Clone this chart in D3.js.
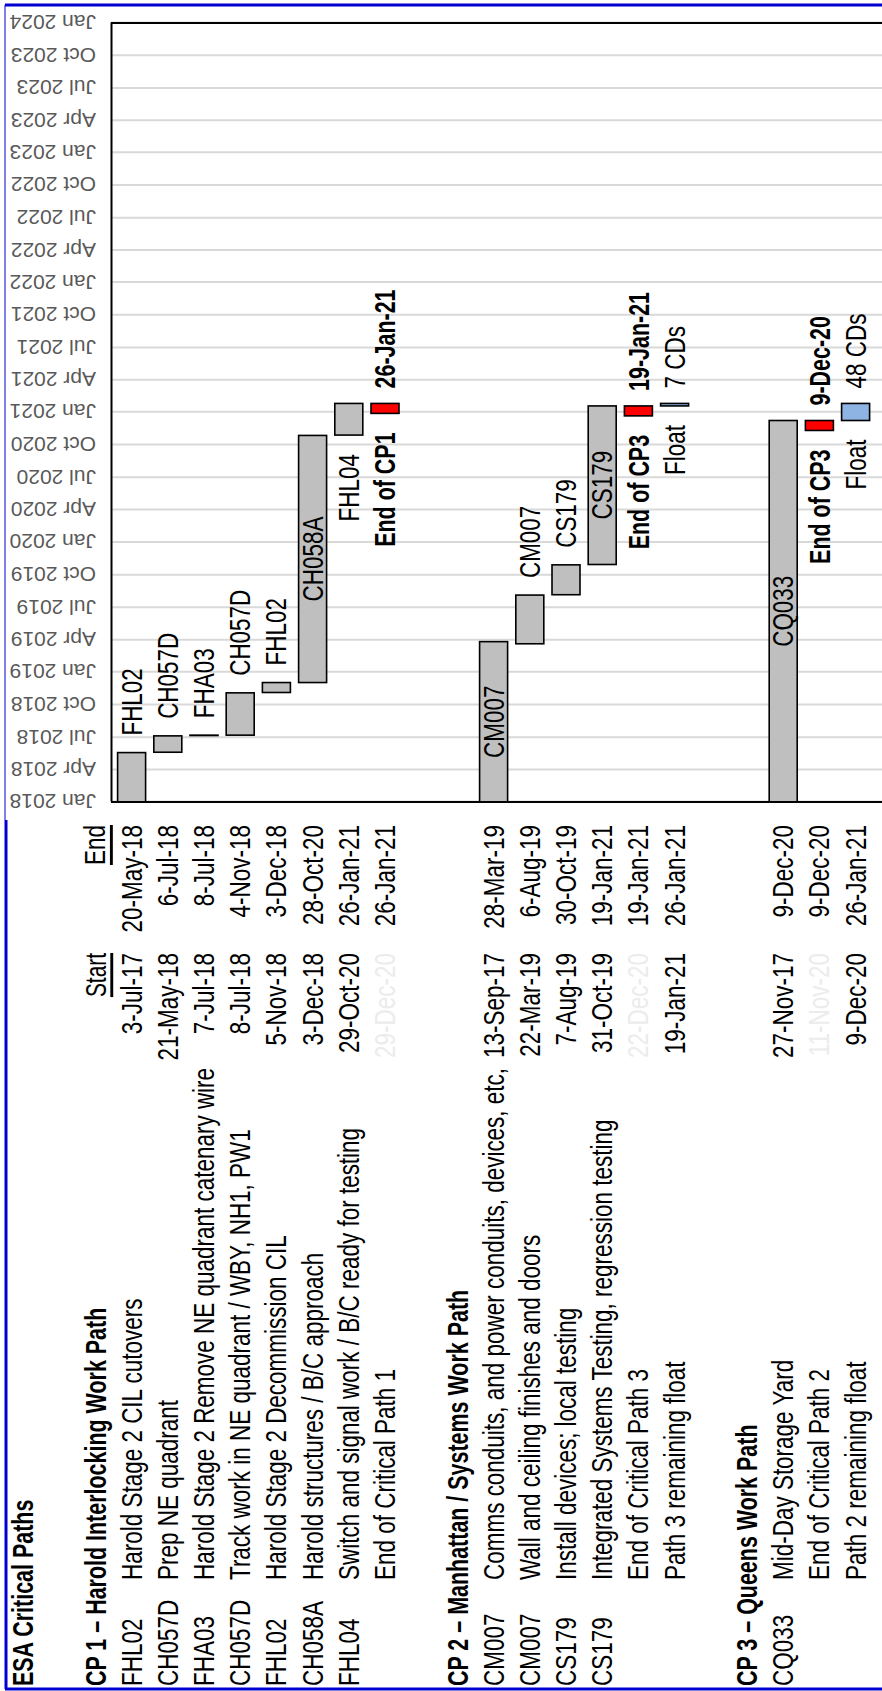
<!DOCTYPE html>
<html>
<head>
<meta charset="utf-8">
<script src="https://cdn.jsdelivr.net/npm/d3@7"></script>
<style>
  html, body { margin: 0; padding: 0; background: #fff; }
  svg { display: block; }
</style>
</head>
<body>
<svg id="chart" width="882" height="1691"></svg>
<script>
// ---- Schedule data -------------------------------------------------------
const title = "ESA Critical Paths";
const sections = [
  "CP 1 \u2013 Harold Interlocking Work Path",
  "CP 2 \u2013 Manhattan / Systems Work Path",
  "CP 3 \u2013 Queens Work Path"
];
const taskSection = [0, 0, 0, 0, 0, 0, 0, 0, 1, 1, 1, 1, 1, 1, 2, 2, 2];
const taskCode = ["FHL02", "CH057D", "FHA03", "CH057D", "FHL02", "CH058A", "FHL04", "",
                  "CM007", "CM007", "CS179", "CS179", "", "",
                  "CQ033", "", ""];
const taskName = [
  "Harold Stage 2 CIL cutovers",
  "Prep NE quadrant",
  "Harold Stage 2 Remove NE quadrant catenary wire",
  "Track work in NE quadrant / WBY, NH1, PW1",
  "Harold Stage 2 Decommission CIL",
  "Harold structures / B/C approach",
  "Switch and signal work / B/C ready for testing",
  "End of Critical Path 1",
  "Comms conduits, and power conduits, devices, etc,",
  "Wall and ceiling finishes and doors",
  "Install devices; local testing",
  "Integrated Systems Testing, regression testing",
  "End of Critical Path 3",
  "Path 3 remaining float",
  "Mid-Day Storage Yard",
  "End of Critical Path 2",
  "Path 2 remaining float"
];
const taskStart = ["3-Jul-17", "21-May-18", "7-Jul-18", "8-Jul-18", "5-Nov-18", "3-Dec-18", "29-Oct-20", "29-Dec-20",
                   "13-Sep-17", "22-Mar-19", "7-Aug-19", "31-Oct-19", "22-Dec-20", "19-Jan-21",
                   "27-Nov-17", "11-Nov-20", "9-Dec-20"];
const taskEnd = ["20-May-18", "6-Jul-18", "8-Jul-18", "4-Nov-18", "3-Dec-18", "28-Oct-20", "26-Jan-21", "26-Jan-21",
                 "28-Mar-19", "6-Aug-19", "30-Oct-19", "19-Jan-21", "19-Jan-21", "26-Jan-21",
                 "9-Dec-20", "9-Dec-20", "26-Jan-21"];
const taskKind = ["work", "work", "work", "work", "work", "work", "work", "end",
                  "work", "work", "work", "work", "end", "float",
                  "work", "end", "float"];
const barLabel = ["FHL02", "CH057D", "FHA03", "CH057D", "FHL02", "CH058A", "FHL04", "End of CP1",
                  "CM007", "CM007", "CS179", "CS179", "End of CP3", "Float",
                  "CQ033", "End of CP3", "Float"];
const tickLabels = ["Jan 2018", "Apr 2018", "Jul 2018", "Oct 2018",
                    "Jan 2019", "Apr 2019", "Jul 2019", "Oct 2019",
                    "Jan 2020", "Apr 2020", "Jul 2020", "Oct 2020",
                    "Jan 2021", "Apr 2021", "Jul 2021", "Oct 2021",
                    "Jan 2022", "Apr 2022", "Jul 2022", "Oct 2022",
                    "Jan 2023", "Apr 2023", "Jul 2023", "Oct 2023",
                    "Jan 2024"];

// ---- Layout ----------------------------------------------------------------
// The sheet is laid out in landscape (time runs left to right) and the whole
// drawing is turned a quarter turn so it reads bottom-to-top on the page.
const PAGE_W = 882, PAGE_H = 1691;
const FONT = "'Liberation Sans', Arial, Helvetica, sans-serif";
const PLOT_TOP = 111;          // edge of the plot next to the date labels
const PLOT_BOTTOM = 900;       // runs past the page edge
const COL_CODE = 5, COL_DESC = 111, COL_DESC_END = 622, COL_START = 738, COL_END = 866;
const BAR_H = 28;

const parseDay = d3.timeParse("%d-%b-%y");
const parseTick = d3.timeParse("%b %Y");
const tickDates = tickLabels.map(parseTick);

const x = d3.scaleTime()
  .domain([tickDates[0], tickDates[tickDates.length - 1]])
  .range([889, 1668]);

const row = d3.scalePoint().domain(d3.range(24)).range([23, 855.6]);

// assign sheet rows: title, blank, then each section heading + its tasks + blank
const headingRow = [];
const taskRow = [];
let r = 2;
sections.forEach((s, si) => {
  headingRow[si] = r++;
  taskSection.forEach((sec, ti) => { if (sec === si) taskRow[ti] = r++; });
  r++;
});

const tasks = taskCode.map((c, i) => ({
  i, code: c, name: taskName[i], kind: taskKind[i], label: barLabel[i],
  startText: taskStart[i], endText: taskEnd[i],
  start: parseDay(taskStart[i]), end: parseDay(taskEnd[i]), row: taskRow[i]
}));

const svg = d3.select("#chart");
const g = svg.append("g").attr("transform", `translate(0,${PAGE_H}) rotate(-90)`);

const defs = svg.append("defs");
defs.append("clipPath").attr("id", "plotClip")
  .append("rect").attr("x", x.range()[0]).attr("y", PLOT_TOP)
  .attr("width", x.range()[1] - x.range()[0]).attr("height", PLOT_BOTTOM - PLOT_TOP);
defs.append("clipPath").attr("id", "descClip")
  .append("rect").attr("x", COL_DESC - 5).attr("y", 0)
  .attr("width", COL_DESC_END - COL_DESC + 5).attr("height", PAGE_W);

// narrow sheet typeface: Arial metrics condensed along the reading direction
function addText(parent, txt, px, py, o = {}) {
  const weight = o.weight || "normal";
  const k = o.sx || (weight === "bold" ? 0.74 : 0.775);
  return parent.append("text")
    .attr("transform", `translate(${px},${py}) scale(${k},1)`)
    .attr("text-anchor", o.anchor || "start")
    .attr("dominant-baseline", "central")
    .attr("font-family", FONT)
    .attr("font-size", o.size || 29)
    .attr("font-weight", weight)
    .attr("fill", o.fill || "#000")
    .text(txt);
}

// ---- Gridlines ---------------------------------------------------------------
const grid = g.append("g").attr("transform", `translate(0,${PLOT_TOP})`)
  .call(d3.axisTop(x).tickValues(tickDates).tickFormat("")
    .tickSizeInner(-(PLOT_BOTTOM - PLOT_TOP)).tickSizeOuter(0));
grid.select(".domain").remove();
grid.selectAll(".tick line").attr("stroke", "#d9d9d9").attr("stroke-width", 2);

// ---- Bars ----------------------------------------------------------------------
const fillFor = { work: "#bfbfbf", end: "#ff0000", float: "#8db4e2" };
g.append("g").attr("clip-path", "url(#plotClip)")
  .selectAll("rect").data(tasks).join("rect")
  .attr("x", d => x(d.start))
  .attr("width", d => Math.max(0, x(d.end) - x(d.start)))
  .attr("y", d => row(d.row) - BAR_H / 2)
  .attr("height", BAR_H)
  .attr("fill", d => fillFor[d.kind])
  .attr("stroke", "#000")
  .attr("stroke-width", 1.6);

// ---- Plot frame + date axis ----------------------------------------------------
const frame = g.append("g").attr("stroke", "#000").attr("stroke-width", 2);
[x.range()[0], x.range()[1]].forEach(px => {
  frame.append("line").attr("x1", px).attr("x2", px)
    .attr("y1", PLOT_TOP).attr("y2", PLOT_BOTTOM);
});

const axisG = g.append("g").attr("transform", `translate(0,${PLOT_TOP})`)
  .call(d3.axisTop(x).tickValues(tickDates).tickFormat((d, i) => tickLabels[i])
    .tickSizeInner(0).tickSizeOuter(0));
axisG.attr("font-family", FONT).attr("font-size", 21);
axisG.select(".domain").attr("stroke", "#000").attr("stroke-width", 2);
axisG.selectAll(".tick line").remove();
axisG.selectAll(".tick text")
  .attr("y", null).attr("dy", null)
  .attr("transform", "translate(0,-15) rotate(-90)")
  .attr("text-anchor", "start")
  .attr("dominant-baseline", "central")
  .attr("fill", "#595959");

// ---- Bar labels ----------------------------------------------------------------
const insideLabel = new Set([5, 8, 11, 14]);   // long bars carry their code inside
const beforeLabel = new Set([6]);               // code placed ahead of the bar
const GAP_AFTER = 17, GAP_BEFORE = 19;
const labels = g.append("g");
tasks.forEach(t => {
  const ly = row(t.row);
  const x0 = Math.max(x(t.start), x.range()[0]);
  const x1 = x(t.end);
  if (t.kind === "work") {
    if (insideLabel.has(t.i)) {
      addText(labels, t.label, (x0 + x1) / 2, ly, { anchor: "middle" });
    } else if (beforeLabel.has(t.i)) {
      addText(labels, t.label, x0 - GAP_BEFORE, ly, { anchor: "end" });
    } else {
      addText(labels, t.label, x1 + GAP_AFTER, ly);
    }
  } else {
    const bold = t.kind === "end" ? "bold" : "normal";
    addText(labels, t.label, x0 - GAP_BEFORE, ly, { anchor: "end", weight: bold });
    const value = t.kind === "end"
      ? t.endText
      : d3.timeDay.count(t.start, t.end) + " CDs";
    addText(labels, value, x1 + GAP_AFTER - 2, ly, { weight: bold });
  }
});

// ---- Table -----------------------------------------------------------------------
const table = g.append("g");
addText(table, title, COL_CODE, row(0), { weight: "bold" });
sections.forEach((s, si) => {
  addText(table, s, COL_CODE, row(headingRow[si]), { weight: "bold" });
});
addText(table, "Start", COL_START, row(headingRow[0]), { anchor: "end", sx: 0.72 })
  .attr("text-decoration", "underline");
addText(table, "End", COL_END, row(headingRow[0]), { anchor: "end" })
  .attr("text-decoration", "underline");

const desc = table.append("g").attr("clip-path", "url(#descClip)");
tasks.forEach(t => {
  const ly = row(t.row);
  if (t.code) addText(table, t.code, COL_CODE, ly);
  addText(desc, t.name, COL_DESC, ly);
  addText(table, t.startText, COL_START, ly,
    { anchor: "end", fill: t.kind === "end" ? "#ececec" : "#000" });
  addText(table, t.endText, COL_END, ly, { anchor: "end" });
});

// ---- Sheet selection border ----------------------------------------------------
const border = svg.append("g").attr("stroke", "#0000d0").attr("fill", "none");
border.append("line").attr("x1", 5).attr("x2", PAGE_W).attr("y1", 5).attr("y2", 5).attr("stroke-width", 3);
border.append("line").attr("x1", 5).attr("x2", 5).attr("y1", 5).attr("y2", 820).attr("stroke-width", 1);
border.append("line").attr("x1", 6).attr("x2", 6).attr("y1", 820).attr("y2", 1689).attr("stroke-width", 3);
border.append("line").attr("x1", 5).attr("x2", PAGE_W).attr("y1", 1689).attr("y2", 1689).attr("stroke-width", 3);
</script>
</body>
</html>
